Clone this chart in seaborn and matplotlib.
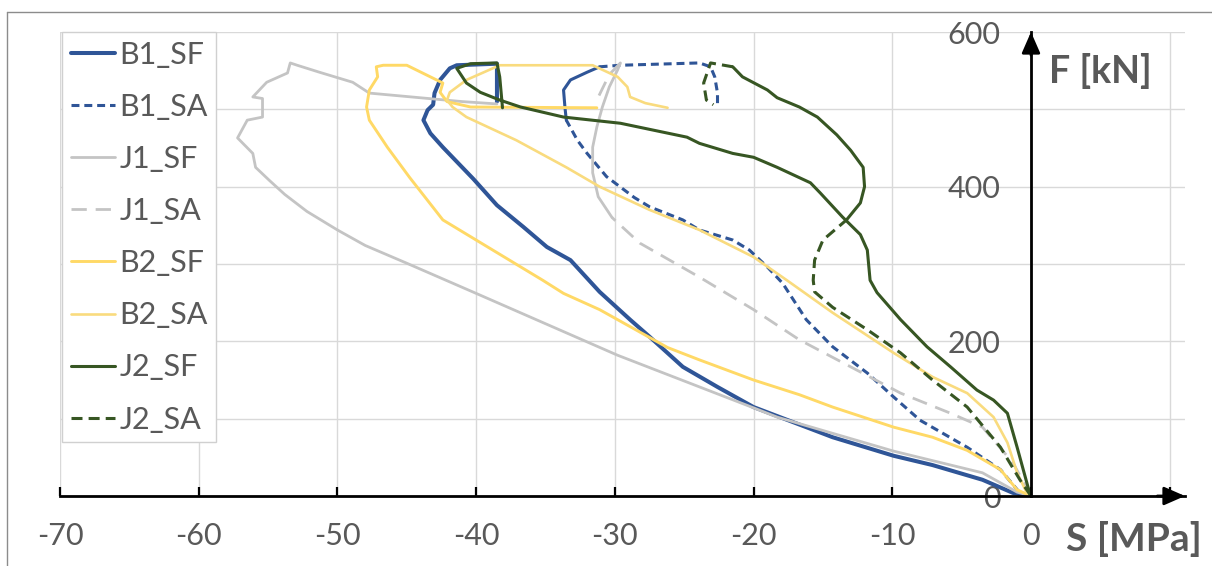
import matplotlib
matplotlib.use("Agg")
import matplotlib.pyplot as plt
import seaborn as sns
from matplotlib.lines import Line2D

# ---------------- data (S [MPa], F [kN]) ----------------
B1_SF_S = [0, -1.3, -3.5, -7.1, -9.9, -14.3, -18.1, -20.0, -22.6, -25.1, -27.5, -28.9, -31.1, -33.2, -34.9,
           -36.6, -38.5, -40.2, -42.4, -43.3, -43.8, -43.5, -43.1, -43.0, -42.6, -41.9, -41.4, -38.5, -38.5, -38.5]
B1_SF_F = [0, 4, 21, 40, 52, 76, 102, 115, 141, 167, 206, 228, 264, 305, 322,
           348, 376, 410, 451, 469, 486, 499, 506, 521, 538, 553, 557, 559, 540, 510]

B1_SA_S = [0, -0.8, -2.2, -4.6, -8.0, -9.9, -11.8, -14.3, -16.2, -17.9, -19.0, -20.3, -21.5, -23.9, -25.1,
           -27.5, -28.6, -30.6, -32.0, -32.7, -33.5, -33.6, -33.7, -33.2, -32.0, -31.1, -29.6, -23.9,
           -23.1, -22.8, -22.6, -22.6]
B1_SA_F = [0, 4, 34, 63, 98, 128, 159, 193, 228, 275, 296, 318, 331, 344, 357,
           374, 386, 413, 443, 460, 486, 503, 525, 538, 548, 555, 557, 560,
           555, 542, 521, 502]

J1_SF_S = [0, -1.0, -3.5, -9.9, -18.3, -20.0, -29.8, -40.0, -45.0, -48.0, -50.0, -52.2, -53.8, -54.9, -55.9,
           -56.1, -57.2, -56.5, -55.4, -55.4, -56.1, -55.1, -53.6, -53.4, -52.9, -51.3, -48.9, -47.7,
           -41.0, -38.5]
J1_SF_F = [0, 5, 30, 58, 102, 114, 182, 262, 301, 324, 344, 368, 390, 408, 425,
           443, 463, 486, 490, 514, 516, 535, 547, 560, 557, 548, 535, 521,
           510, 507]

J1_SA_S = [0, -1.3, -3.5, -5.8, -9.4, -13.0, -16.7, -20.0, -23.9, -28.2, -30.2, -31.2, -31.6, -31.6, -31.3,
           -30.9, -30.4, -29.8, -29.6, -30.4, -31.3]
J1_SA_F = [0, 43, 89, 107, 133, 167, 202, 241, 283, 327, 360, 387, 418, 451, 477,
           503, 529, 551, 560, 545, 512]

B2_SF_S = [0, -1.0, -2.2, -4.6, -7.1, -9.9, -14.3, -16.7, -20.0, -23.9, -26.2, -28.9, -31.1, -33.7, -35.2,
           -40.0, -42.4, -44.8, -46.4, -47.7, -47.9, -47.7, -47.1, -47.2, -46.7, -45.0, -43.3, -42.4,
           -42.6, -42.1, -40.4, -31.3]
B2_SF_F = [0, 8, 34, 59, 76, 89, 115, 131, 150, 176, 192, 219, 241, 262, 279,
           331, 357, 412, 451, 486, 503, 525, 542, 555, 557, 557, 542, 534,
           522, 510, 503, 502]

B2_SA_S = [0, -0.3, -1.0, -1.7, -2.7, -4.6, -7.1, -9.9, -14.3, -17.6, -20.0, -23.9, -27.5, -31.1, -33.5,
           -37.1, -40.7, -41.7, -42.1, -41.9, -40.7, -38.3, -31.6, -29.8, -29.1, -28.9, -27.8, -26.2]
B2_SA_F = [0, 4, 30, 69, 102, 133, 154, 185, 237, 279, 309, 344, 370, 400, 425,
           460, 490, 503, 512, 522, 538, 557, 557, 542, 529, 516, 508, 502]

J2_SF_S = [0, -0.1, -1.0, -1.7, -2.7, -3.9, -5.8, -7.5, -9.4, -11.1, -11.6, -11.8, -12.3, -13.6, -15.2,
           -15.9, -18.3, -20.0, -21.5, -23.9, -24.8, -29.6, -33.7, -36.8, -38.3, -39.7, -40.7, -41.4,
           -40.4, -38.5, -38.3, -38.1]
J2_SF_F = [0, 4, 63, 107, 124, 137, 167, 193, 228, 263, 279, 318, 338, 361, 392,
           405, 425, 438, 443, 456, 464, 482, 490, 503, 512, 522, 534, 553,
           559, 560, 542, 502]

J2_SA_S = [0, -0.8, -2.2, -4.6, -7.1, -9.4, -11.8, -14.3, -15.6, -15.7, -15.6, -15.0, -13.3, -12.3, -12.0,
           -12.1, -13.0, -14.0, -15.4, -16.7, -18.3, -19.0, -20.8, -21.5, -23.1, -23.6, -23.4, -22.9]
J2_SA_F = [0, 21, 63, 115, 150, 185, 215, 244, 264, 279, 305, 331, 357, 379, 400,
           425, 447, 467, 490, 503, 515, 525, 542, 555, 560, 534, 512, 506]

SERIES = ["B1_SF", "B1_SA", "J1_SF", "J1_SA", "B2_SF", "B2_SA", "J2_SF", "J2_SA"]
X_TICKS = [-70, -60, -50, -40, -30, -20, -10, 0, 10]
X_LABELS = ["-70", "-60", "-50", "-40", "-30", "-20", "-10", "0", ""]
Y_TICKS = [0, 100, 200, 300, 400, 500, 600]
Y_LABELS = ["0", "", "200", "", "400", "", "600"]

data = {
    "B1_SF": (B1_SF_S, B1_SF_F), "B1_SA": (B1_SA_S, B1_SA_F),
    "J1_SF": (J1_SF_S, J1_SF_F), "J1_SA": (J1_SA_S, J1_SA_F),
    "B2_SF": (B2_SF_S, B2_SF_F), "B2_SA": (B2_SA_S, B2_SA_F),
    "J2_SF": (J2_SF_S, J2_SF_F), "J2_SA": (J2_SA_S, J2_SA_F),
}

styles = {
    "B1_SF": dict(color="#2F5597", lw=2.9, ls="-"),
    "B1_SA": dict(color="#2F5597", lw=2.2, ls=(0, (2.6, 1.6))),
    "J1_SF": dict(color="#C4C4C4", lw=2.0, ls="-"),
    "J1_SA": dict(color="#C4C4C4", lw=2.0, ls=(0, (5.5, 3.2))),
    "B2_SF": dict(color="#FFD966", lw=2.1, ls="-"),
    "B2_SA": dict(color="#F9DB7E", lw=1.9, ls="-"),
    "J2_SF": dict(color="#375623", lw=2.2, ls="-"),
    "J2_SA": dict(color="#375623", lw=2.2, ls=(0, (3.6, 2.0))),
}

# dense-data stretches that render as continuous strokes in the original
solid_stretch = {"B1_SA": (20, 25), "J1_SA": (10, 18), "J2_SA": (12, 23)}

# ---------------- figure ----------------
sns.set_theme(style="white")
plt.rcParams["font.family"] = ["Lato", "DejaVu Sans"]

W, H = 1212, 566
fig = plt.figure(figsize=(W / 100, H / 100), dpi=100)
fig.patch.set_facecolor("white")

x0_px, x1_px, y0_px, y1_px = 60, 1185, 496, 32
ax = fig.add_axes([x0_px / W, 1 - y0_px / H, (x1_px - x0_px) / W, (y0_px - y1_px) / H])
ax.set_facecolor("white")


def draw(s, f, st, ls):
    sns.lineplot(x=s, y=f, sort=False, estimator=None, ax=ax, color=st["color"],
                 linewidth=st["lw"], linestyle=ls, legend=False)


for name in SERIES:
    s, f = data[name]
    st = styles[name]
    if name in solid_stretch:
        a, b = solid_stretch[name]
        draw(s[:a + 1], f[:a + 1], st, st["ls"])
        draw(s[a:b + 1], f[a:b + 1], st, "-")
        draw(s[b:], f[b:], st, st["ls"])
    else:
        draw(s, f, st, st["ls"])

ax.set_xlim(-70, (x1_px - 1031) / ((1031 - 60) / 70))
ax.set_ylim(0, 600)
ax.set_xticks(X_TICKS)
ax.set_xticklabels(X_LABELS)
ax.set_yticks(Y_TICKS)
ax.set_yticklabels(Y_LABELS)
ax.grid(True, color="#D9D9D9", lw=1.0)
ax.set_axisbelow(True)
ax.set_xlabel("")
ax.set_ylabel("")

for sp in ["top", "right"]:
    ax.spines[sp].set_visible(False)
ax.spines["left"].set_position(("data", 0))
for sp in ["left", "bottom"]:
    ax.spines[sp].set_color("black")
    ax.spines[sp].set_linewidth(2.0)
    ax.spines[sp].set_zorder(5)

ax.tick_params(axis="x", direction="in", length=6.5, width=1.6, color="black",
               labelsize=22, labelcolor="#595959", pad=19, bottom=True)
ax.tick_params(axis="y", length=0, labelsize=22, labelcolor="#595959", pad=22, left=True)

# arrow heads
xmax = ax.get_xlim()[1]
arrow_kw = dict(arrowstyle="-|>,head_length=0.8,head_width=0.35", color="black", lw=2.0,
                shrinkA=0, shrinkB=0, mutation_scale=16)
ax.annotate("", xy=(xmax, 0), xytext=(xmax - 2, 0), arrowprops=arrow_kw, annotation_clip=False)
ax.annotate("", xy=(0, 600), xytext=(0, 570), arrowprops=arrow_kw, annotation_clip=False)

# axis titles
ax.text(1.3, 550, "F [kN]", ha="left", va="center", fontsize=27, fontweight="bold",
        color="#595959", clip_on=False)
fig.text(1066 / W, 1 - 539 / H, "S [MPa]", ha="left", va="center", fontsize=28,
         fontweight="bold", color="#595959")

# legend
handles = [Line2D([0], [0], color=styles[n]["color"], lw=styles[n]["lw"], ls=styles[n]["ls"]) for n in SERIES]
leg = fig.legend(handles, SERIES, loc="upper left", bbox_to_anchor=(62 / W, 1 - 32 / H),
                 bbox_transform=fig.transFigure, fontsize=22, handlelength=1.45,
                 handletextpad=0.15, labelspacing=0.79, borderpad=0.28, borderaxespad=0,
                 frameon=True, fancybox=False, framealpha=1)
leg.get_frame().set_edgecolor("#D0D0D0")
leg.get_frame().set_linewidth(1.0)
for t in leg.get_texts():
    t.set_color("#595959")

# outer border
fig.add_artist(Line2D([7 / W, 7 / W], [0, 1 - 12 / H], transform=fig.transFigure, color="#8C8C8C", lw=1.0))
fig.add_artist(Line2D([7 / W, 1], [1 - 12 / H, 1 - 12 / H], transform=fig.transFigure, color="#8C8C8C", lw=1.0))

fig.savefig("out.png", dpi=100, facecolor="white")
